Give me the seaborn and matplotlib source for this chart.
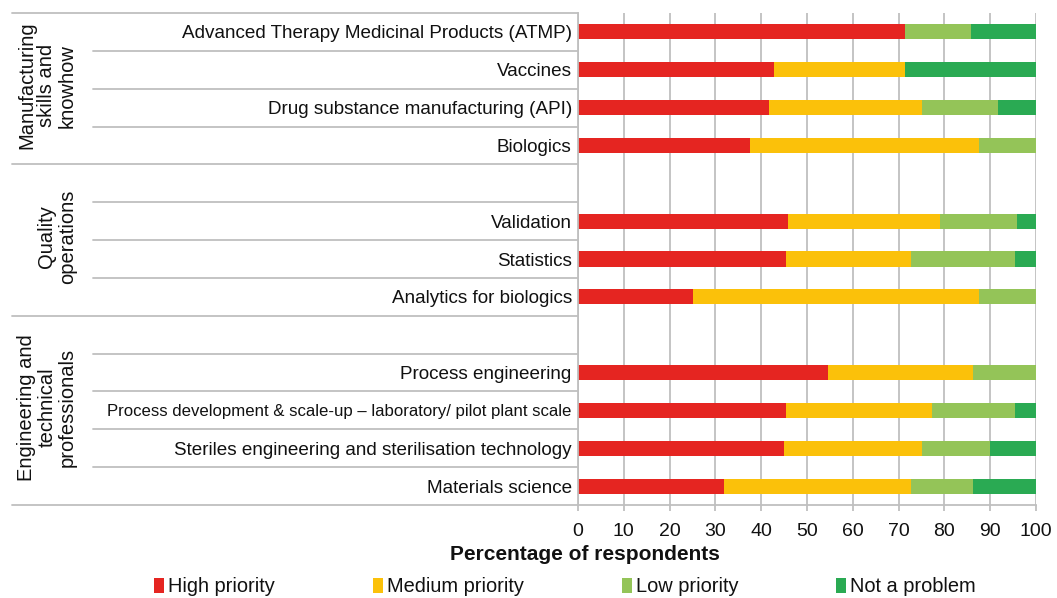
import numpy as np
import matplotlib
matplotlib.use("Agg")
import matplotlib.pyplot as plt
import matplotlib.transforms as mtransforms
from matplotlib.patches import Patch
import pandas as pd
import seaborn as sns

# rows top to bottom; None marks an empty spacer row
rows = ['Advanced Therapy Medicinal Products (ATMP)', 'Vaccines',
        'Drug substance manufacturing (API)', 'Biologics', None,
        'Validation', 'Statistics', 'Analytics for biologics', None,
        'Process engineering',
        'Process development & scale-up \u2013 laboratory/ pilot plant scale',
        'Steriles engineering and sterilisation technology', 'Materials science']

high = [71.4, 42.9, 41.7, 37.5, 45.8, 45.5, 25.0, 54.5, 45.5, 45.0, 31.8]
medium = [0.0, 28.6, 33.3, 50.0, 33.3, 27.3, 62.5, 31.8, 31.8, 30.0, 40.9]
low = [14.3, 0.0, 16.7, 12.5, 16.7, 22.7, 12.5, 13.6, 18.2, 15.0, 13.6]
not_problem = [14.3, 28.6, 8.3, 0.0, 4.2, 4.5, 0.0, 0.0, 4.5, 10.0, 13.6]

groups = ['Manufacturing\nskills and\nknowhow', 'Quality\noperations',
          'Engineering and\ntechnical\nprofessionals']
group_spans = [(0, 3), (4, 7), (8, 12)]  # row index ranges

series = ['High priority', 'Medium priority', 'Low priority', 'Not a problem']
colors = ['#e52521', '#fbc10a', '#94c458', '#2aaa53']

# give spacer rows unique blank names so seaborn keeps a slot for them
order = []
k = 0
for r in rows:
    if r is None:
        k += 1
        order.append(' ' * k)
    else:
        order.append(r)
items = [r for r in rows if r is not None]

df = pd.DataFrame({'item': items, 'High priority': high, 'Medium priority': medium,
                   'Low priority': low, 'Not a problem': not_problem})
cum = df[series].cumsum(axis=1)
cum['item'] = df['item']

sns.set_theme(style='white')
plt.rcParams['font.family'] = ['Liberation Sans', 'DejaVu Sans']

fig = plt.figure(figsize=(10.57, 5.98), dpi=100)
W, H = 1057, 598
x0, x1, ytop, ybot = 578, 1036, 13, 505
ax = fig.add_axes([x0 / W, 1 - ybot / H, (x1 - x0) / W, (ybot - ytop) / H])

# stacked bars: draw cumulative totals from the back
for s, c in reversed(list(zip(series, colors))):
    sns.barplot(data=cum, x=s, y='item', order=order, orient='h', color=c,
                width=0.4, errorbar=None, linewidth=0, saturation=1, ax=ax)

grey = '#bfbfbf'
txt = '#111111'
ax.set_xlim(0, 100)
ax.set_ylim(len(order) - 0.5, -0.5)
ax.set_xticks(np.arange(0, 101, 10))
ax.xaxis.grid(True, color=grey, lw=1.3)
ax.set_axisbelow(True)
ax.set_xlabel('')
ax.set_ylabel('')
for sp in ['top', 'right']:
    ax.spines[sp].set_visible(False)
for sp in ['left', 'bottom']:
    ax.spines[sp].set_color(grey)
    ax.spines[sp].set_linewidth(1.3)
ax.tick_params(axis='y', length=0, pad=4.5, labelsize=13.6, labelcolor=txt)
ax.tick_params(axis='x', length=4, width=1.3, color=grey, pad=9, labelsize=14,
               labelcolor=txt, bottom=True)
for lab in ax.get_yticklabels():
    if lab.get_text().startswith('Process development'):
        lab.set_fontsize(12.1)

# row separator lines on the left label table
tr = mtransforms.blended_transform_factory(ax.transAxes, ax.transData)
xl_row = (93 - x0) / (x1 - x0)
xl_grp = (12 - x0) / (x1 - x0)
bounds = np.arange(len(order) + 1) - 0.5
grp_bounds = [-0.5] + [b + 0.5 for _, b in group_spans]
for b in bounds:
    xs = xl_grp if b in grp_bounds else xl_row
    ax.plot([xs, 0], [b, b], color=grey, lw=1.3, transform=tr, clip_on=False)

for g, (a, b) in zip(groups, group_spans):
    ax.text((77 - x0) / (x1 - x0), (a + b) / 2 - 0.08, g, transform=tr, rotation=90,
            ha='right', va='center', multialignment='center', fontsize=14.5,
            color=txt, linespacing=1.1)

fig.text(585 / W, 1 - 554 / H, 'Percentage of respondents', ha='center', va='center',
         fontsize=15, fontweight='bold', color=txt)

handles = [Patch(facecolor=c, edgecolor='none', label=s) for s, c in zip(series, colors)]
fig.legend(handles=handles, loc='center', bbox_to_anchor=(565 / W, 1 - 587 / H), ncol=4,
           frameon=False, fontsize=14.4, labelcolor=txt, handlelength=0.5,
           handleheight=0.75, handletextpad=0.2, columnspacing=4.9,
           borderaxespad=0, borderpad=0)

fig.savefig('out.png', dpi=100)
